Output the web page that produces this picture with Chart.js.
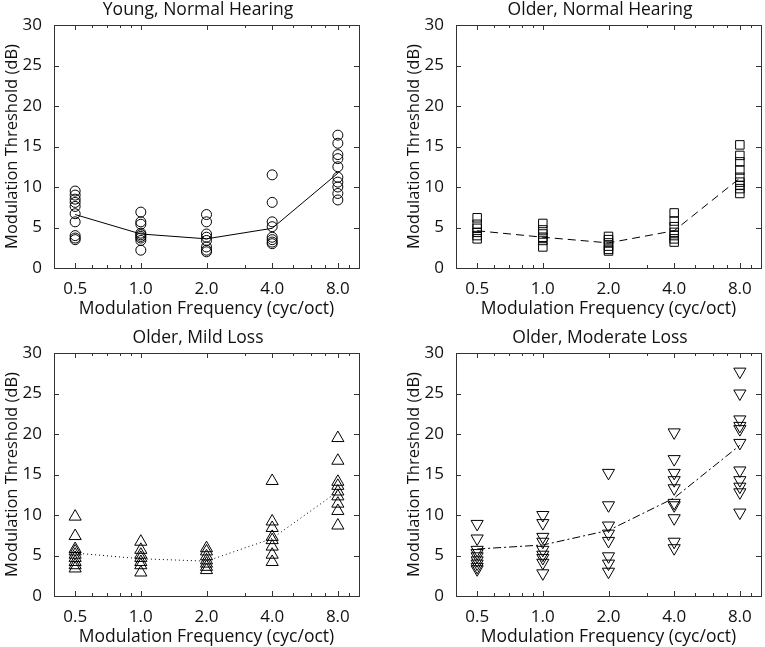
<!DOCTYPE html>
<html>
<head>
<meta charset="utf-8">
<script src="https://cdn.jsdelivr.net/npm/chart.js@4.4.0/dist/chart.umd.min.js"></script>
<style>
  html, body { margin: 0; padding: 0; background: #fff; overflow: hidden; width: 765px; height: 647px; }
  canvas { position: absolute; }
</style>
</head>
<body>
<canvas id="p0" width="396" height="319" style="left:0;top:0"></canvas>
<canvas id="p1" width="396" height="319" style="left:402px;top:0"></canvas>
<canvas id="p2" width="396" height="319" style="left:0;top:328px"></canvas>
<canvas id="p3" width="396" height="319" style="left:402px;top:328px"></canvas>
<script>
const freqs = [0.5, 1, 2, 4, 8];
const freqLabels = ['0.5', '1.0', '2.0', '4.0', '8.0'];
const yTicks = [0, 5, 10, 15, 20, 25, 30];
const minorFreqTicks = [0.6, 0.7, 0.8, 0.9, 3, 5, 6, 7, 9];

// thresholds per listener, grouped by modulation frequency
const youngNormal = [
  [9.5, 9.0, 8.5, 8.1, 7.6, 6.7, 5.7, 4.0, 3.7, 3.5],
  [6.9, 5.7, 5.4, 4.3, 4.1, 3.9, 3.7, 3.4, 2.2],
  [6.6, 5.7, 4.2, 3.8, 3.4, 2.6, 2.2, 2.0],
  [11.5, 8.1, 5.7, 5.1, 3.8, 3.5, 3.2, 3.0],
  [16.4, 15.4, 14.0, 13.5, 12.5, 11.2, 10.6, 10.0, 9.2, 8.4]
];
const youngNormalMean = [6.6, 4.2, 3.6, 4.9, 11.7];

const olderNormal = [
  [6.2, 5.4, 4.9, 4.4, 4.0, 3.6],
  [5.5, 4.7, 4.2, 3.8, 3.4, 2.6],
  [3.9, 3.5, 3.1, 2.7, 2.3, 2.1],
  [6.8, 5.8, 5.1, 4.4, 4.0, 3.6, 3.2],
  [15.2, 13.9, 13.1, 12.1, 11.2, 10.6, 10.2, 9.8, 9.2]
];
const olderNormalMean = [4.6, 3.8, 3.1, 4.6, 11.1];

const olderMild = [
  [9.8, 7.4, 5.8, 5.5, 5.1, 4.7, 4.2, 3.8, 3.4],
  [6.7, 5.7, 5.1, 4.7, 4.2, 3.8, 2.9],
  [5.9, 5.5, 4.9, 4.4, 4.0, 3.6, 3.2],
  [14.2, 9.2, 8.4, 7.3, 6.9, 6.1, 5.1, 4.2],
  [19.5, 16.7, 14.1, 13.6, 12.9, 12.3, 11.4, 10.5, 8.7]
];
const olderMildMean = [5.3, 4.6, 4.3, 7.1, 12.9];

const olderModerate = [
  [8.9, 7.1, 5.7, 5.3, 4.9, 4.4, 4.0, 3.6, 3.3],
  [10.0, 9.0, 7.3, 6.7, 5.7, 5.1, 4.7, 4.1, 2.8],
  [15.2, 11.2, 8.7, 7.7, 6.8, 4.9, 4.0, 3.0],
  [20.2, 16.9, 15.2, 14.3, 13.3, 11.5, 11.2, 9.6, 6.7, 5.9],
  [27.7, 25.0, 21.8, 21.0, 20.6, 18.9, 15.5, 14.3, 13.5, 12.8, 10.3]
];
const olderModerateMean = [5.8, 6.3, 8.1, 12.1, 18.6];

const panels = [
  { id: 'p0', title: 'Young, Normal Hearing', values: youngNormal, mean: youngNormalMean,
    marker: 'circle', radius: 5, rotation: 0, dash: [] },
  { id: 'p1', title: 'Older, Normal Hearing', values: olderNormal, mean: olderNormalMean,
    marker: 'rect', radius: 6, rotation: 0, dash: [8, 5] },
  { id: 'p2', title: 'Older, Mild Loss', values: olderMild, mean: olderMildMean,
    marker: 'triangle', radius: 7, rotation: 0, dash: [1, 3] },
  { id: 'p3', title: 'Older, Moderate Loss', values: olderModerate, mean: olderModerateMean,
    marker: 'triangle', radius: 7, rotation: 180, dash: [8, 3, 2, 3] }
];

const FONT = "'Open Sans', sans-serif";
const INK = '#111';

// box round the plot with inward ticks on all four sides
const framePlugin = {
  id: 'frame',
  afterDraw(chart) {
    const { ctx, chartArea: a, scales } = chart;
    const x = scales.x, y = scales.y;
    ctx.save();
    ctx.strokeStyle = '#333';
    ctx.lineWidth = 1;
    ctx.beginPath();
    const tick = (px, len) => {
      px = Math.round(px) + 0.5;
      ctx.moveTo(px, a.bottom); ctx.lineTo(px, a.bottom - len);
      ctx.moveTo(px, a.top); ctx.lineTo(px, a.top + len);
    };
    freqs.forEach(f => tick(x.getPixelForValue(f), 5));
    minorFreqTicks.forEach(f => tick(x.getPixelForValue(f), 3));
    yTicks.forEach(v => {
      const py = Math.round(y.getPixelForValue(v)) + 0.5;
      ctx.moveTo(a.left, py); ctx.lineTo(a.left + 5, py);
      ctx.moveTo(a.right, py); ctx.lineTo(a.right - 5, py);
    });
    ctx.stroke();
    ctx.strokeRect(Math.round(a.left) + 0.5, Math.round(a.top) + 0.5,
      Math.round(a.right - a.left), Math.round(a.bottom - a.top));
    ctx.restore();
  }
};

panels.forEach(p => {
  const points = p.values.flatMap((vals, i) => vals.map(v => ({ x: freqs[i], y: v })));
  const meanLine = freqs.map((f, i) => ({ x: f, y: p.mean[i] }));
  new Chart(document.getElementById(p.id), {
    type: 'scatter',
    data: {
      datasets: [
        {
          data: points,
          pointStyle: p.marker,
          pointRadius: p.radius,
          pointRotation: p.rotation,
          pointBorderColor: '#000',
          pointBorderWidth: 1,
          pointBackgroundColor: 'rgba(0,0,0,0)',
          showLine: false
        },
        {
          data: meanLine,
          showLine: true,
          borderColor: '#000',
          borderWidth: 1,
          borderDash: p.dash,
          pointRadius: 0,
          fill: false
        }
      ]
    },
    options: {
      responsive: false,
      animation: false,
      events: [],
      layout: { padding: 0 },
      plugins: {
        legend: { display: false },
        tooltip: { enabled: false },
        title: {
          display: true,
          text: p.title,
          color: INK,
          font: { family: FONT, size: 17.5, weight: 'normal', lineHeight: 1.2 },
          padding: { top: 0, bottom: 4 }
        }
      },
      scales: {
        x: {
          type: 'logarithmic',
          min: 0.4,
          max: 10,
          grid: { display: false },
          border: { display: false },
          afterBuildTicks: s => { s.ticks = freqs.map(v => ({ value: v })); },
          afterFit: s => { s.height = 51; },
          ticks: {
            autoSkip: false,
            maxRotation: 0,
            padding: 3,
            color: INK,
            font: { family: FONT, size: 17 },
            callback: v => freqLabels[freqs.indexOf(v)]
          },
          title: {
            display: true,
            text: 'Modulation Frequency (cyc/oct)',
            color: INK,
            font: { family: FONT, size: 17.5 },
            padding: { top: 0, bottom: -1 }
          }
        },
        y: {
          min: 0,
          max: 30,
          grid: { display: false },
          border: { display: false },
          afterBuildTicks: s => { s.ticks = yTicks.map(v => ({ value: v })); },
          afterFit: s => { s.width = 54; },
          ticks: {
            padding: 4,
            color: INK,
            font: { family: FONT, size: 17 }
          },
          title: {
            display: true,
            text: 'Modulation Threshold (dB)',
            color: INK,
            font: { family: FONT, size: 16.5 },
            padding: { top: 2, bottom: 0 }
          }
        },
        // empty strip on the right so the title centres like the reference
        pad: {
          type: 'linear',
          position: 'right',
          display: true,
          grid: { display: false },
          border: { display: false },
          ticks: { display: false },
          afterFit: s => { s.width = 396 - 359; }
        }
      }
    },
    plugins: [framePlugin]
  });
});
</script>
</body>
</html>
